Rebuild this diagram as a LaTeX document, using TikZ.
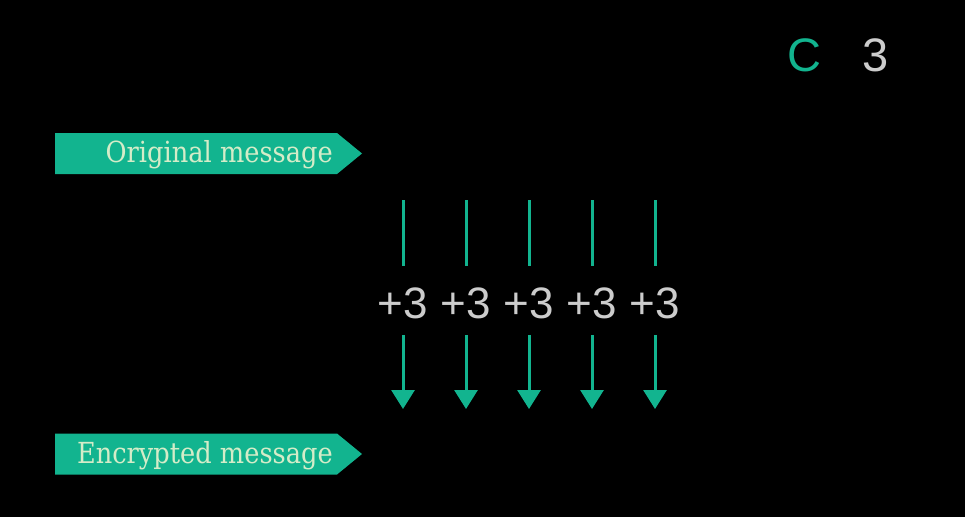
\documentclass[tikz,border=0pt]{standalone}
\usepackage{fontspec}
\setmainfont{Liberation Sans}
\newfontfamily\bannerfont[FakeStretch=0.885]{DejaVu Serif}
\usetikzlibrary{arrows.meta}
\definecolor{caesargreen}{RGB}{18,180,143}
\definecolor{pale}{RGB}{212,236,200}
\definecolor{lightgrey}{RGB}{204,204,204}
\tikzset{
  banner/.style={anchor=east,inner sep=0pt,text=pale,font=\bannerfont\fontsize{29}{29}\selectfont},
  shiftlabel/.style={text=lightgrey,inner xsep=0pt,inner ysep=21pt,font=\fontsize{44}{44}\selectfont},
  feed/.style={draw=caesargreen,line width=3pt},
  encarrow/.style={feed,-{Triangle[width=23pt,length=19pt]},shorten <=-5pt}
}
\begin{document}
\begin{tikzpicture}[x=1pt,y=-1pt]
\fill[black] (0,0) rectangle (965,517);
\useasboundingbox (0,0) rectangle (965,517);
% key
\node[text=caesargreen,font=\fontsize{47}{47}\selectfont] (key) at (804,55) {C};
\node[text=lightgrey,font=\fontsize{47}{47}\selectfont] (keyval) at (876,55) {3};
% banners
\foreach \y/\txt/\nm in {153.5/Original message/orig,454/Encrypted message/enc} {
  \fill[caesargreen] (55,\y-20.5) -- (337,\y-20.5) -- (362,\y) -- (337,\y+20.5) -- (55,\y+20.5) -- cycle;
  \node[banner] (\nm) at (333,\y+1.5) {\txt};
}
% letter shifts
\foreach \i in {0,...,4} {
  \coordinate (t\i) at (403+63*\i,200);
  \node[shiftlabel] (p\i) at (403+63*\i,303) {+3};
  \coordinate (b\i) at (403+63*\i,409);
  \draw[feed] (t\i) -- (p\i.north);
  \draw[encarrow] (p\i.south) -- (b\i);
}
\end{tikzpicture}
\end{document}
